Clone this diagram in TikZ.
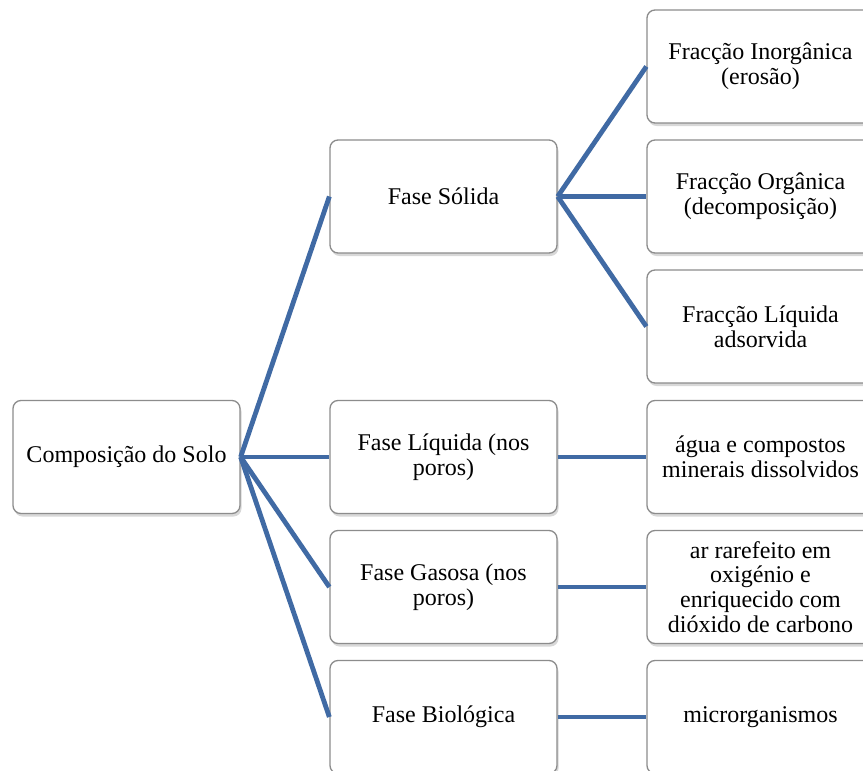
\documentclass[tikz,border=0pt]{standalone}
\usepackage{fontspec}
\setmainfont{Liberation Serif}
\usetikzlibrary{shadows}
\definecolor{linkblue}{RGB}{64,106,164}
\definecolor{boxborder}{RGB}{140,140,140}
\tikzset{
  box/.style={draw=boxborder, line width=1.3pt, fill=white, rounded corners=8pt,
    minimum width=227pt, minimum height=113pt, inner sep=0pt,
    align=center, font=\fontsize{24}{24.8}\selectfont,
    drop shadow={shadow xshift=1.5pt, shadow yshift=-3pt, opacity=0.25, fill=black!60}},
  link/.style={draw=linkblue, line width=4.8pt}
}
\begin{document}
\begin{tikzpicture}[x=1pt,y=-1pt]
\useasboundingbox (0,0) rectangle (863,771);
\clip (0,0) rectangle (863,771);
\fill[white] (0,0) rectangle (863,771);
% root
\node[box] (root) at (126.5,457) {Composição do Solo};
% middle column
\node[box] (solida) at (443.5,196.5) {Fase Sólida};
\node[box] (liquida) at (443.5,457) {Fase Líquida (nos\\poros)};
\node[box] (gasosa) at (443.5,587) {Fase Gasosa (nos\\poros)};
\node[box] (bio) at (443.5,717) {Fase Biológica};
% right column
\node[box] (inorg) at (760.5,66.5) {Fracção Inorgânica\\(erosão)};
\node[box] (org) at (760.5,196.5) {Fracção Orgânica\\(decomposição)};
\node[box] (liqads) at (760.5,326.5) {Fracção Líquida\\adsorvida};
\node[box] (agua) at (760.5,457) {água e compostos\\minerais dissolvidos};
\node[box] (ar) at (760.5,587) {ar rarefeito em\\oxigénio e\\enriquecido com\\dióxido de carbono};
\node[box] (micro) at (760.5,717) {microrganismos};
% connectors
\draw[link] (root.east) -- (solida.west);
\draw[link] (root.east) -- (liquida.west);
\draw[link] (root.east) -- (gasosa.west);
\draw[link] (root.east) -- (bio.west);
\draw[link] (solida.east) -- (inorg.west);
\draw[link] (solida.east) -- (org.west);
\draw[link] (solida.east) -- (liqads.west);
\draw[link] (liquida.east) -- (agua.west);
\draw[link] (gasosa.east) -- (ar.west);
\draw[link] (bio.east) -- (micro.west);
\end{tikzpicture}
\end{document}
